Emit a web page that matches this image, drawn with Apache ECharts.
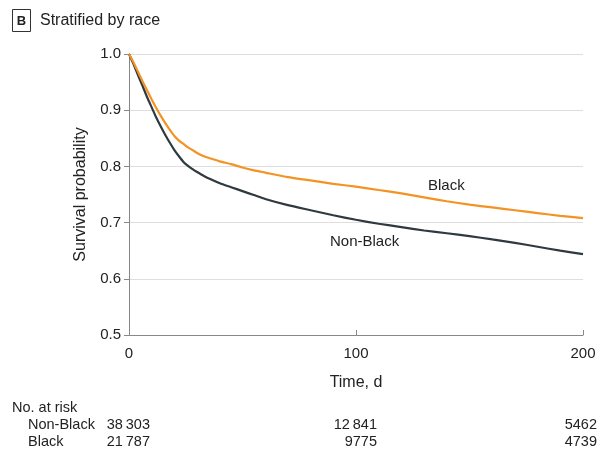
<!DOCTYPE html>
<html>
<head>
<meta charset="utf-8">
<script src="https://cdn.jsdelivr.net/npm/echarts@6/dist/echarts.min.js"></script>
<style>html,body{margin:0;padding:0;background:#fff}#c{width:608px;height:455px}</style>
</head>
<body>
<div id="c"></div>
<script>
const timesBlack = [0,2,4,6,8,10,12,14,16,18,20,22,24,26,28,30,33,36,40,45,50,55,60,70,80,90,100,110,120,130,140,150,160,170,180,190,200];
const survBlack = [1.0,0.985,0.968,0.951,0.935,0.919,0.904,0.890,0.877,0.865,0.854,0.846,0.840,0.834,0.829,0.824,0.818,0.814,0.809,0.804,0.798,0.793,0.789,0.781,0.775,0.769,0.764,0.758,0.752,0.745,0.738,0.732,0.727,0.722,0.717,0.712,0.708];
const timesNonBlack = [0,2,4,6,8,10,12,14,16,18,20,22,24,26,28,30,33,36,40,45,50,55,60,70,80,90,100,110,120,130,140,150,160,170,180,190,200];
const survNonBlack = [1.0,0.982,0.962,0.943,0.923,0.905,0.887,0.871,0.856,0.842,0.829,0.818,0.808,0.801,0.795,0.790,0.783,0.777,0.770,0.763,0.756,0.749,0.742,0.731,0.722,0.713,0.705,0.698,0.692,0.686,0.681,0.676,0.670,0.664,0.657,0.650,0.644];
const xTicks = [0,100,200];
const riskGroups = ["Non-Black","Black"];
const riskNonBlack = ["38\u2009303","12\u2009841","5462"];
const riskBlack = ["21\u2009787","9775","4739"];

const FONT = "Liberation Sans, Arial, sans-serif";
const chart = echarts.init(document.getElementById('c'));
const toPairs = (t, v) => t.map((x, i) => [x, v[i]]);

const riskRows = [riskNonBlack, riskBlack];
const riskX = [150, 377, 597];
const graphics = [
  {type:'rect', shape:{x:12.5,y:9.5,width:18,height:22}, style:{fill:'#fff',stroke:'#333',lineWidth:1}},
  {type:'text', x:21.5, y:21, style:{text:'B', font:'bold 13px '+FONT, fill:'#222', align:'center', verticalAlign:'middle'}},
  {type:'text', x:40, y:21, style:{text:'Stratified by race', font:'16px '+FONT, fill:'#222', verticalAlign:'middle'}},
  {type:'text', x:428, y:186, style:{text:'Black', font:'15px '+FONT, fill:'#222', verticalAlign:'middle'}},
  {type:'text', x:330, y:242, style:{text:'Non-Black', font:'15px '+FONT, fill:'#222', verticalAlign:'middle'}},
  {type:'text', x:12, y:408, style:{text:'No. at risk', font:'14.5px '+FONT, fill:'#222', verticalAlign:'middle'}}
];
riskGroups.forEach((g, r) => {
  const y = 425 + r * 17;
  graphics.push({type:'text', x:28, y:y, style:{text:g, font:'14.5px '+FONT, fill:'#222', verticalAlign:'middle'}});
  riskRows[r].forEach((v, i) => {
    graphics.push({type:'text', x:riskX[i], y:y, style:{text:v, font:'14.5px '+FONT, fill:'#222', align:'right', verticalAlign:'middle'}});
  });
});

chart.setOption({
  animation:false,
  grid:{left:129, right:25, top:54, bottom:120, containLabel:false},
  xAxis:{
    type:'value', min:0, max:200, interval:100,
    name:'Time, d', nameLocation:'middle', nameGap:40,
    nameTextStyle:{fontFamily:FONT, fontSize:16, color:'#222'},
    axisLine:{show:true, lineStyle:{color:'#888', width:1}},
    axisTick:{show:true, inside:true, length:5, lineStyle:{color:'#888'}},
    axisLabel:{fontFamily:FONT, fontSize:15, color:'#222', margin:11},
    splitLine:{show:false}
  },
  yAxis:{
    type:'value', min:0.5, max:1.0, interval:0.1,
    name:'Survival probability', nameLocation:'middle', nameGap:40,
    nameTextStyle:{fontFamily:FONT, fontSize:16, color:'#222'},
    axisLine:{show:true, lineStyle:{color:'#888', width:1}},
    axisTick:{show:true, inside:false, length:5, lineStyle:{color:'#888'}},
    axisLabel:{fontFamily:FONT, fontSize:15, color:'#222', margin:8, formatter:v=>v.toFixed(1)},
    splitLine:{show:true, lineStyle:{color:'#dedede', width:1}}
  },
  series:[
    {name:'Non-Black', type:'line', showSymbol:false, smooth:0.2, data:toPairs(timesNonBlack, survNonBlack),
     lineStyle:{color:'#2e3a40', width:2.2}, itemStyle:{color:'#2e3a40'}},
    {name:'Black', type:'line', showSymbol:false, smooth:0.2, data:toPairs(timesBlack, survBlack),
     lineStyle:{color:'#f39324', width:2.2}, itemStyle:{color:'#f39324'}}
  ],
  graphic:graphics
});
</script>
</body>
</html>
